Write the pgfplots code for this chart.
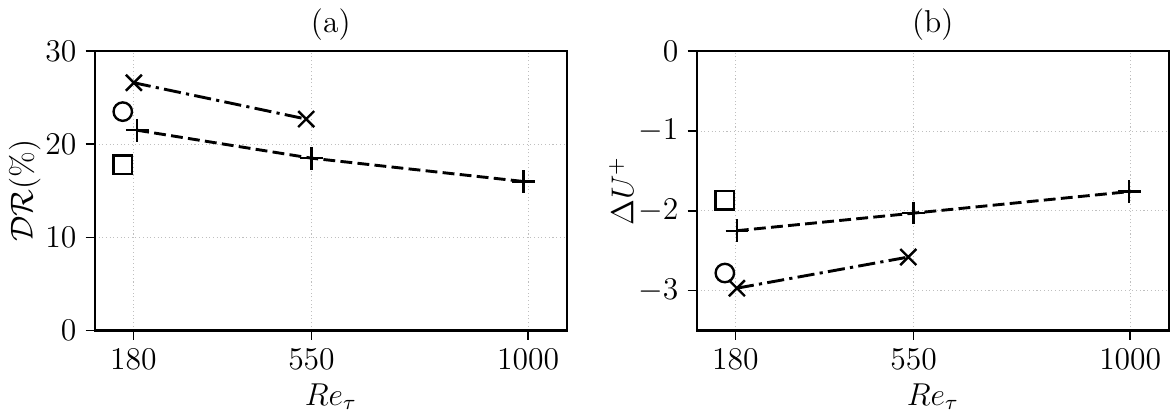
\documentclass[border=0pt]{standalone}
\usepackage{pgfplots}
\pgfplotsset{compat=1.18}

\pgfplotsset{
  panel/.style={
    scale only axis,
    width=179pt, height=106pt,
    xmin=100, xmax=1080,
    xtick={180,550,1000},
    /pgf/number format/1000 sep={},
    tick label style={font=\large},
    label style={font=\large},
    title style={font=\large, yshift=-5.5pt},
    axis line style={line width=0.8pt},
    tick style={line width=0.6pt, black},
    major tick length=3.5pt,
    tick align=outside,
    xtick pos=bottom, ytick pos=left,
    grid=major,
    grid style={densely dotted, gray!50, line width=0.3pt},
    xlabel={$Re_\tau$},
    xlabel style={yshift=1.5pt},
    clip=false,
  },
  dashline/.style={black, line width=1.1pt, dash pattern=on 4.5pt off 2pt, mark=+, mark size=4.3pt, mark options={solid, line width=0.9pt}},
  dashdotline/.style={black, line width=1.1pt, dash pattern=on 6.5pt off 2pt on 1.2pt off 2pt, mark=x, mark size=4.3pt, mark options={solid, line width=0.9pt}},
  single/.style={black, only marks, mark size=3.5pt, mark options={solid, line width=0.9pt, fill=none}},
}

\begin{document}
\begin{tikzpicture}
\begin{axis}[panel,
  title={(a)},
  ymin=0, ymax=30,
  ytick={0,10,20,30},
  ylabel={$\mathcal{DR}(\%)$},
  ylabel style={yshift=-5pt},
]
\addplot[dashdotline] coordinates {(181,26.6) (539,22.7)};
\addplot[dashline] coordinates {(188,21.5) (550,18.5) (990,16.0)};
\addplot[single, mark=o] coordinates {(158,23.5)};
\addplot[single, mark=square] coordinates {(158,17.8)};
\end{axis}

\begin{axis}[panel,
  at={(228.4pt,0)},
  title={(b)},
  ymin=-3.5, ymax=0,
  ytick={-3,-2,-1,0},
  ylabel={$\Delta U^{+}$},
  ylabel style={yshift=-5pt},
]
\addplot[dashdotline] coordinates {(183,-2.97) (539,-2.58)};
\addplot[dashline] coordinates {(183,-2.25) (550,-2.03) (998,-1.76)};
\addplot[single, mark=o] coordinates {(158,-2.78)};
\addplot[single, mark=square] coordinates {(158,-1.87)};
\end{axis}
\end{tikzpicture}
\end{document}
